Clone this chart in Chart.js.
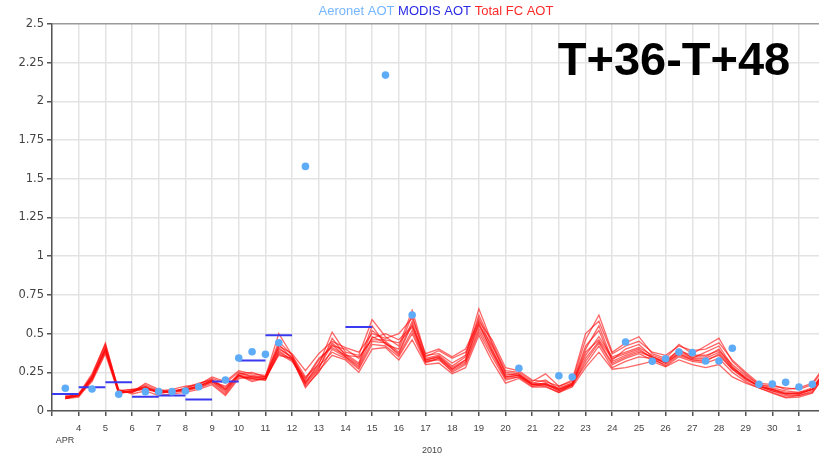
<!DOCTYPE html>
<html lang="en">
<head>
    <meta charset="UTF-8">
    <title>AOT T+36-T+48</title>
    <script src="https://cdn.jsdelivr.net/npm/chart.js@4"></script>
    <style>
        body {
            margin: 0;
            background-color: #ffffff;
        }
        .chart-box {
            width: 819px;
            height: 460px;
        }
    </style>
</head>
<body>
    <div class="chart-box">
        <canvas id="aotChart" width="819" height="460"></canvas>
    </div>
    <script>
        // x values are April days (31 = 1 May), forecast members every 12h
        const fcDays = [3.5, 4, 4.5, 5, 5.5, 6, 6.5, 7, 7.5, 8,
                        8.5, 9, 9.5, 10, 10.5, 11, 11.5, 12, 12.5, 13,
                        13.5, 14, 14.5, 15, 15.5, 16, 16.5, 17, 17.5, 18,
                        18.5, 19, 19.5, 20, 20.5, 21, 21.5, 22, 22.5, 23,
                        23.5, 24, 24.5, 25, 25.5, 26, 26.5, 27, 27.5, 28,
                        28.5, 29, 29.5, 30, 30.5, 31, 31.5, 32];

        const member1 = [0.09, 0.10, 0.23, 0.44, 0.13, 0.12, 0.18, 0.14, 0.12, 0.15,
                         0.17, 0.21, 0.18, 0.25, 0.22, 0.22, 0.50, 0.36, 0.22, 0.30,
                         0.51, 0.38, 0.36, 0.59, 0.48, 0.42, 0.65, 0.36, 0.37, 0.31,
                         0.36, 0.66, 0.44, 0.26, 0.25, 0.19, 0.24, 0.16, 0.19, 0.46,
                         0.62, 0.38, 0.44, 0.48, 0.37, 0.34, 0.43, 0.37, 0.42, 0.47,
                         0.32, 0.24, 0.17, 0.16, 0.15, 0.14, 0.17, 0.29];
        const member2 = [0.08, 0.10, 0.21, 0.41, 0.12, 0.13, 0.15, 0.12, 0.13, 0.14,
                         0.16, 0.19, 0.12, 0.23, 0.20, 0.21, 0.43, 0.34, 0.17, 0.27,
                         0.47, 0.36, 0.30, 0.52, 0.45, 0.38, 0.58, 0.33, 0.35, 0.27,
                         0.33, 0.60, 0.40, 0.22, 0.23, 0.17, 0.18, 0.14, 0.17, 0.40,
                         0.55, 0.33, 0.40, 0.43, 0.35, 0.31, 0.40, 0.34, 0.38, 0.42,
                         0.29, 0.21, 0.16, 0.14, 0.12, 0.11, 0.14, 0.26];
        const member3 = [0.09, 0.11, 0.22, 0.39, 0.13, 0.14, 0.14, 0.13, 0.12, 0.15,
                         0.18, 0.20, 0.15, 0.24, 0.23, 0.22, 0.40, 0.35, 0.20, 0.33,
                         0.42, 0.40, 0.34, 0.47, 0.50, 0.46, 0.55, 0.35, 0.39, 0.34,
                         0.38, 0.56, 0.42, 0.25, 0.24, 0.18, 0.17, 0.15, 0.18, 0.36,
                         0.48, 0.35, 0.38, 0.41, 0.36, 0.33, 0.39, 0.36, 0.36, 0.39,
                         0.30, 0.23, 0.17, 0.15, 0.13, 0.12, 0.15, 0.27];
        const member4 = [0.10, 0.11, 0.20, 0.38, 0.12, 0.12, 0.16, 0.11, 0.13, 0.13,
                         0.15, 0.18, 0.11, 0.22, 0.21, 0.20, 0.38, 0.33, 0.16, 0.25,
                         0.40, 0.35, 0.28, 0.45, 0.44, 0.36, 0.52, 0.32, 0.33, 0.26,
                         0.31, 0.53, 0.37, 0.21, 0.22, 0.16, 0.17, 0.13, 0.16, 0.32,
                         0.44, 0.30, 0.34, 0.37, 0.33, 0.30, 0.36, 0.33, 0.33, 0.36,
                         0.27, 0.20, 0.16, 0.13, 0.10, 0.10, 0.13, 0.25];
        const member5 = [0.08, 0.10, 0.19, 0.37, 0.11, 0.13, 0.14, 0.12, 0.12, 0.14,
                         0.15, 0.19, 0.13, 0.23, 0.19, 0.21, 0.37, 0.32, 0.19, 0.29,
                         0.38, 0.34, 0.27, 0.43, 0.42, 0.35, 0.50, 0.31, 0.34, 0.25,
                         0.30, 0.51, 0.35, 0.20, 0.22, 0.17, 0.16, 0.12, 0.17, 0.30,
                         0.42, 0.28, 0.32, 0.35, 0.34, 0.29, 0.35, 0.32, 0.31, 0.34,
                         0.25, 0.19, 0.15, 0.12, 0.09, 0.10, 0.12, 0.24];
        const member6 = [0.09, 0.10, 0.22, 0.42, 0.12, 0.13, 0.17, 0.13, 0.14, 0.16,
                         0.17, 0.22, 0.19, 0.26, 0.24, 0.23, 0.42, 0.37, 0.26, 0.37,
                         0.45, 0.41, 0.38, 0.50, 0.47, 0.50, 0.60, 0.37, 0.40, 0.35,
                         0.40, 0.58, 0.46, 0.28, 0.26, 0.20, 0.19, 0.16, 0.20, 0.50,
                         0.58, 0.37, 0.42, 0.45, 0.38, 0.36, 0.42, 0.39, 0.40, 0.44,
                         0.33, 0.25, 0.18, 0.17, 0.14, 0.15, 0.18, 0.30];
        const member7 = [0.08, 0.09, 0.20, 0.40, 0.14, 0.11, 0.13, 0.10, 0.11, 0.12,
                         0.14, 0.17, 0.10, 0.21, 0.22, 0.21, 0.36, 0.34, 0.15, 0.26,
                         0.36, 0.33, 0.25, 0.40, 0.41, 0.33, 0.46, 0.30, 0.31, 0.24,
                         0.28, 0.49, 0.32, 0.18, 0.21, 0.155, 0.155, 0.12, 0.155, 0.28,
                         0.38, 0.27, 0.28, 0.30, 0.32, 0.285, 0.33, 0.30, 0.28, 0.30,
                         0.22, 0.18, 0.15, 0.115, 0.085, 0.09, 0.115, 0.24];
        const member8 = [0.09, 0.11, 0.24, 0.43, 0.13, 0.14, 0.15, 0.13, 0.13, 0.14,
                         0.16, 0.20, 0.14, 0.24, 0.25, 0.22, 0.45, 0.36, 0.18, 0.31,
                         0.44, 0.37, 0.31, 0.55, 0.43, 0.40, 0.62, 0.34, 0.36, 0.29,
                         0.35, 0.62, 0.43, 0.24, 0.23, 0.18, 0.20, 0.14, 0.18, 0.42,
                         0.52, 0.32, 0.36, 0.39, 0.35, 0.32, 0.38, 0.35, 0.35, 0.40,
                         0.28, 0.22, 0.16, 0.14, 0.11, 0.11, 0.14, 0.26];
        const member9 = [0.08, 0.10, 0.21, 0.40, 0.12, 0.12, 0.15, 0.12, 0.12, 0.13,
                         0.16, 0.19, 0.16, 0.23, 0.21, 0.20, 0.39, 0.33, 0.21, 0.34,
                         0.41, 0.36, 0.35, 0.46, 0.46, 0.44, 0.54, 0.33, 0.35, 0.28,
                         0.33, 0.55, 0.39, 0.23, 0.24, 0.17, 0.18, 0.13, 0.17, 0.38,
                         0.46, 0.34, 0.37, 0.40, 0.34, 0.31, 0.37, 0.34, 0.34, 0.38,
                         0.28, 0.21, 0.16, 0.14, 0.11, 0.12, 0.14, 0.26];
        const member10 = [0.09, 0.10, 0.22, 0.39, 0.12, 0.13, 0.16, 0.12, 0.13, 0.14,
                          0.16, 0.20, 0.14, 0.23, 0.22, 0.21, 0.41, 0.34, 0.18, 0.28,
                          0.43, 0.35, 0.29, 0.48, 0.44, 0.37, 0.56, 0.32, 0.34, 0.27,
                          0.32, 0.57, 0.38, 0.22, 0.23, 0.17, 0.17, 0.14, 0.17, 0.34,
                          0.45, 0.31, 0.35, 0.38, 0.35, 0.31, 0.37, 0.33, 0.32, 0.37,
                          0.27, 0.21, 0.16, 0.13, 0.11, 0.11, 0.14, 0.26];
        const fcMembers = [member1, member2, member3, member4, member5,
                           member6, member7, member8, member9, member10];

        // Aeronet observations
        const aeronetDays = [3.5, 4.5, 5.5, 6.5, 7, 7.5, 8, 8.5, 9.5, 10, 10.5, 11, 11.5,
                             12.5, 15.5, 16.5, 20.5, 22, 22.5, 24.5, 25.5, 26, 26.5, 27,
                             27.5, 28, 28.5, 29.5, 30, 30.5, 31, 31.5];
        const aeronetAot = [0.147, 0.142, 0.108, 0.125, 0.125, 0.125, 0.129, 0.157, 0.20, 0.342,
                            0.383, 0.366, 0.441, 1.58, 2.17, 0.62, 0.276, 0.228, 0.22, 0.446,
                            0.321, 0.338, 0.381, 0.377, 0.323, 0.323, 0.405, 0.172, 0.174, 0.185,
                            0.155, 0.172];

        // MODIS daily values (each covers one day)
        const modisDays = [3, 4, 5, 6, 7, 8, 9, 10, 11, 14];
        const modisAot = [0.11, 0.153, 0.185, 0.092, 0.10, 0.075, 0.19, 0.327, 0.489, 0.543];

        // x axis ticks
        const xTickValues = [3, 4, 5, 6, 7, 8, 9, 10, 11, 12, 13, 14, 15, 16, 17, 18,
                             19, 20, 21, 22, 23, 24, 25, 26, 27, 28, 29, 30, 31];
        const xTickLabels = ['', '4', '5', '6', '7', '8', '9', '10', '11', '12', '13', '14', '15', '16', '17', '18',
                             '19', '20', '21', '22', '23', '24', '25', '26', '27', '28', '29', '30', '1'];

        const FONT = '"Liberation Sans", Arial, sans-serif';

        const modisPoints = [];
        modisDays.forEach((d, i) => {
            modisPoints.push({ x: d, y: modisAot[i] });
            modisPoints.push({ x: d + 1, y: modisAot[i] });
            modisPoints.push({ x: d + 1, y: null });
        });

        const datasets = [
            {
                label: 'Aeronet AOT',
                data: aeronetDays.map((d, i) => ({ x: d, y: aeronetAot[i] })),
                showLine: false,
                pointRadius: 3.8,
                pointBackgroundColor: '#5eacf7',
                pointBorderWidth: 0
            },
            {
                label: 'MODIS AOT',
                data: modisPoints,
                borderColor: '#3a3af0',
                borderWidth: 2,
                pointRadius: 0,
                spanGaps: false
            }
        ];
        fcMembers.forEach((m, k) => {
            datasets.push({
                label: 'Total FC AOT ' + (k + 1),
                data: fcDays.map((d, i) => ({ x: d, y: m[i] })),
                borderColor: 'rgba(255, 10, 10, 0.62)',
                borderWidth: 1.3,
                pointRadius: 0,
                tension: 0
            });
        });

        // header legend, T+ label, APR / 2010
        const textPlugin = {
            id: 'textPlugin',
            afterDraw(chart) {
                const ctx = chart.ctx;
                ctx.save();
                ctx.font = '13px ' + FONT;
                ctx.textBaseline = 'middle';
                ctx.textAlign = 'left';
                const parts = [
                    ['Aeronet AOT', '#74b6ff'],
                    ['MODIS AOT', '#2a2ae6'],
                    ['Total FC AOT', '#ff2b2b']
                ];
                const gap = ctx.measureText(' ').width;
                let total = parts.reduce((s, p) => s + ctx.measureText(p[0]).width, 0) + gap * 2;
                let x = 436 - total / 2;
                parts.forEach(p => {
                    ctx.fillStyle = p[1];
                    ctx.fillText(p[0], x, 11);
                    x += ctx.measureText(p[0]).width + gap;
                });

                ctx.font = 'bold 47px ' + FONT;
                ctx.fillStyle = '#000';
                ctx.textAlign = 'center';
                ctx.textBaseline = 'alphabetic';
                ctx.fillText('T+36-T+48', 674, 75);

                ctx.font = '9px ' + FONT;
                ctx.fillStyle = '#444';
                ctx.textBaseline = 'middle';
                ctx.fillText('APR', 65, 441);
                ctx.fillText('2010', 432, 451);
                ctx.restore();
            }
        };

        new Chart(document.getElementById('aotChart'), {
            type: 'line',
            data: { datasets: datasets },
            plugins: [textPlugin],
            options: {
                responsive: false,
                animation: false,
                layout: { autoPadding: false, padding: { top: 24, left: 0, right: 0, bottom: 0 } },
                plugins: {
                    legend: { display: false },
                    title: { display: false },
                    tooltip: { enabled: false }
                },
                scales: {
                    x: {
                        type: 'linear',
                        min: 3,
                        max: 31.75,
                        afterBuildTicks: scale => {
                            scale.ticks = xTickValues.map(v => ({ value: v }));
                        },
                        afterFit: scale => { scale.height = 49; },
                        ticks: {
                            autoSkip: false,
                            maxRotation: 0,
                            padding: 7,
                            color: '#444',
                            font: { family: FONT, size: 9.5 },
                            callback: (v, i) => xTickLabels[i]
                        },
                        grid: {
                            color: '#e3e3e3',
                            lineWidth: 1.5,
                            tickLength: 5,
                            tickColor: '#555',
                            tickWidth: 1.5
                        },
                        border: { color: '#555', width: 1.5 }
                    },
                    y: {
                        min: 0,
                        max: 2.5,
                        afterFit: scale => { scale.width = 52; },
                        ticks: {
                            stepSize: 0.25,
                            padding: 3,
                            color: '#444',
                            font: { family: '"DejaVu Sans", sans-serif', size: 11.5 },
                            callback: v => String(+v.toFixed(2))
                        },
                        grid: {
                            color: c => (c.tick && c.tick.value === 2.5) ? '#9a9a9a' : '#e3e3e3',
                            lineWidth: 1.5,
                            tickLength: 5,
                            tickColor: '#555',
                            tickWidth: 1.5
                        },
                        border: { color: '#555', width: 1.5 }
                    }
                }
            }
        });
    </script>
</body>
</html>
